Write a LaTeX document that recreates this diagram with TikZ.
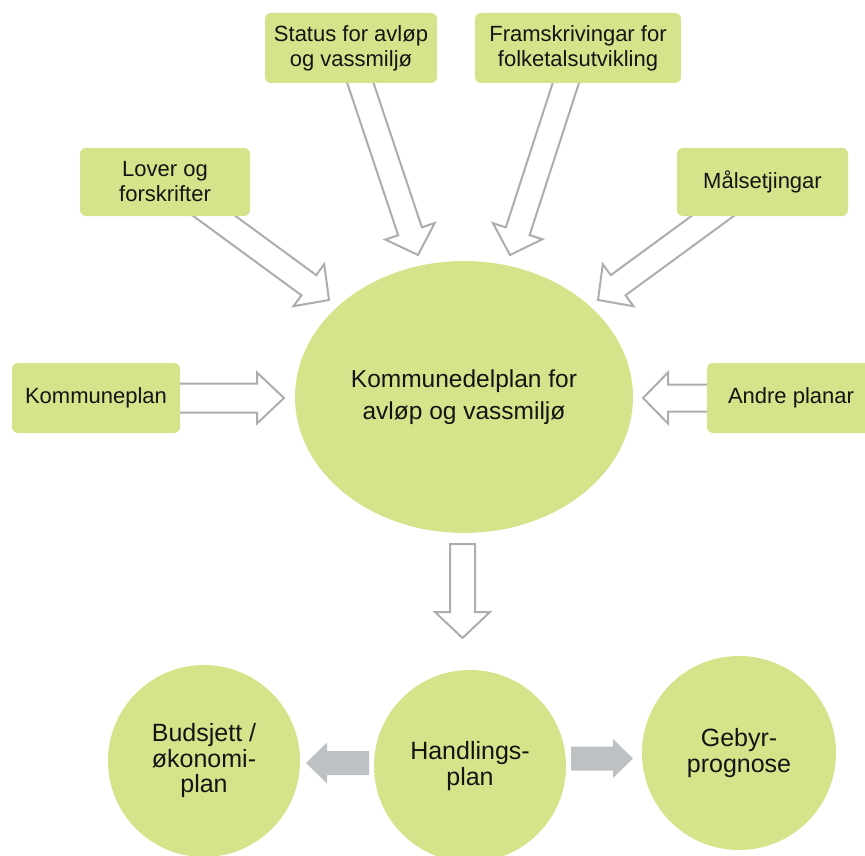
\documentclass[tikz,border=0pt]{standalone}
\usepackage{fontspec}
\setmainfont{Liberation Sans}
\usetikzlibrary{calc,shapes.geometric}
\definecolor{lgreen}{HTML}{D5E48A}
\definecolor{aline}{HTML}{ADADAD}
\definecolor{agrey}{HTML}{BEC1C4}
\definecolor{tdark}{HTML}{141414}
\pgfdeclarelayer{bg}
\pgfsetlayers{bg,main}
% #1 style, #2 start, #3 tip, #4 shaft half width, #5 head half width, #6 head length
\newcommand{\blockarrow}[6]{%
  \coordinate (ba-n) at ($(#3)!#6!(#2)$);
  \draw[#1] ($(#2)!#4!90:(#3)$) -- ($(ba-n)!#4!-90:(#2)$) -- ($(ba-n)!#5!-90:(#2)$)
    -- (#3) -- ($(ba-n)!#5!90:(#2)$) -- ($(ba-n)!#4!90:(#2)$) -- ($(#2)!#4!-90:(#3)$) -- cycle;
}
\begin{document}
\begin{tikzpicture}[x=1pt,y=-1pt,
  inbox/.style={rectangle, fill=lgreen, rounded corners=6pt, inner sep=0pt, align=center,
    text=tdark, font=\fontsize{22}{25}\selectfont},
  bigell/.style={ellipse, fill=lgreen, inner sep=0pt, align=center, text=tdark,
    minimum width=338pt, minimum height=272pt, font=\fontsize{24.5}{32}\selectfont},
  roundel/.style={circle, fill=lgreen, inner sep=0pt, align=center, text=tdark,
    minimum size=#1, font=\fontsize{25}{25.5}\selectfont},
  hollow/.style={draw=aline, line width=2pt, fill=white, line join=miter},
  solidarr/.style={fill=agrey, draw=none}]
\useasboundingbox (0,0) rectangle (865,856);

% nodes
\node[inbox, minimum width=172pt, minimum height=70pt] (status) at (351,48) {Status for avløp\\og vassmiljø};
\node[inbox, minimum width=206pt, minimum height=70pt] (fram) at (578,48) {Framskrivingar for\\folketalsutvikling};
\node[inbox, minimum width=170pt, minimum height=68pt] (lover) at (165,182) {Lover og\\forskrifter};
\node[inbox, minimum width=171pt, minimum height=68pt] (maal) at (762.5,182) {Målsetjingar};
\node[inbox, minimum width=168pt, minimum height=70pt] (kplan) at (96,398) {Kommuneplan};
\node[inbox, minimum width=168pt, minimum height=70pt] (andre) at (791,398) {Andre planar};
\node[bigell] (kdp) at (464,397) {Kommunedelplan for\\avløp og vassmiljø};
\node[roundel=192pt] (budsjett) at (204,761) {Budsjett /\\økonomi-\\plan};
\node[roundel=192pt] (handling) at (470,766) {Handlings-\\plan};
\node[roundel=194pt] (gebyr) at (739,753) {Gebyr-\\prognose};

% connector end points
\coordinate (lover-s) at (198,204);   \coordinate (lover-t) at (329,300);
\coordinate (status-s) at (354,64);   \coordinate (status-t) at (418,255);
\coordinate (fram-s) at (572,64);     \coordinate (fram-t) at (510,255);
\coordinate (maal-s) at (729,204);    \coordinate (maal-t) at (598,300);
\coordinate (kplan-s) at (160,398);   \coordinate (kplan-t) at (284,398);
\coordinate (andre-s) at (740,398);   \coordinate (andre-t) at (643,398);
\coordinate (down-s) at (462.5,544);  \coordinate (down-t) at (462.5,638);
\coordinate (left-s) at (369,763);    \coordinate (left-t) at (306,763);
\coordinate (right-s) at (571,758.5); \coordinate (right-t) at (633,758.5);

\begin{pgfonlayer}{bg}
\blockarrow{hollow}{lover-s}{lover-t}{12.5pt}{26pt}{25pt}
\blockarrow{hollow}{status-s}{status-t}{12.5pt}{26pt}{25pt}
\blockarrow{hollow}{fram-s}{fram-t}{12.5pt}{26pt}{25pt}
\blockarrow{hollow}{maal-s}{maal-t}{12.5pt}{26pt}{25pt}
\blockarrow{hollow}{kplan-s}{kplan-t}{14.5pt}{25.5pt}{27pt}
\blockarrow{hollow}{andre-s}{andre-t}{13.5pt}{25.5pt}{25pt}
\blockarrow{hollow}{down-s}{down-t}{12.5pt}{27.5pt}{26pt}
\blockarrow{solidarr}{left-s}{left-t}{12pt}{20.5pt}{21pt}
\blockarrow{solidarr}{right-s}{right-t}{12pt}{19.5pt}{20pt}
\end{pgfonlayer}
\end{tikzpicture}
\end{document}
